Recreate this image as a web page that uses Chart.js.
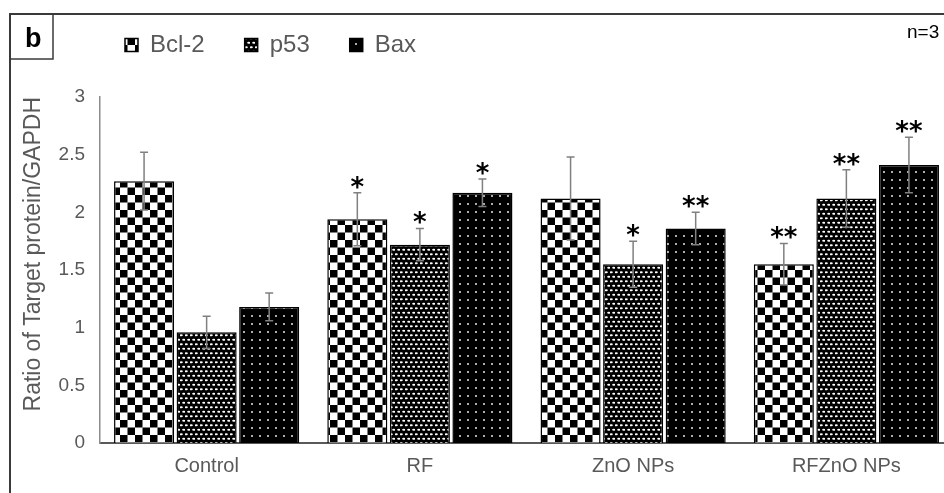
<!DOCTYPE html>
<html>
<head>
<meta charset="utf-8">
<script src="https://cdn.jsdelivr.net/npm/chart.js@4.4.1/dist/chart.umd.min.js"></script>
<style>
html, body { margin: 0; padding: 0; background: #fff; overflow: hidden; }
#wrap { width: 944px; height: 493px; overflow: hidden; }
</style>
</head>
<body>
<div id="wrap"><canvas id="chart-1" width="960" height="493"></canvas></div>
<script>
// values
const groups = ['Control', 'RF', 'ZnO NPs', 'RFZnO NPs'];
const bcl2 = [2.27, 1.94, 2.12, 1.55];
const bcl2Err = [0.25, 0.23, 0.36, 0.18];
const p53 = [0.96, 1.72, 1.55, 2.12];
const p53Err = [0.14, 0.14, 0.20, 0.25];
const bax = [1.18, 2.17, 1.86, 2.41];
const baxErr = [0.12, 0.12, 0.14, 0.24];
const bcl2Sig = ['', '*', '', '**'];
const p53Sig = ['', '*', '*', '**'];
const baxSig = ['', '*', '**', '**'];
const yTicks = [0, 0.5, 1, 1.5, 2, 2.5, 3];

const family = '"Liberation Sans", Arial, sans-serif';

function makePattern(w, h, draw) {
  var c = document.createElement('canvas');
  c.width = w;
  c.height = h;
  draw(c.getContext('2d'), w, h);
  return c.getContext('2d').createPattern(c, 'repeat');
}

// checkerboard
var checker = makePattern(15, 15, function (g) {
  g.fillStyle = '#fff';
  g.fillRect(0, 0, 15, 15);
  g.fillStyle = '#000';
  g.fillRect(0, 0, 7.5, 7.5);
  g.fillRect(7.5, 7.5, 7.5, 7.5);
});

// dense white ovals on black
var ovals = makePattern(5, 9, function (g) {
  g.fillStyle = '#000';
  g.fillRect(0, 0, 5, 9);
  g.fillStyle = '#fff';
  g.beginPath();
  g.ellipse(1.25, 2.25, 1.6, 1.1, 0, 0, Math.PI * 2);
  g.ellipse(3.75, 6.75, 1.6, 1.1, 0, 0, Math.PI * 2);
  g.fill();
});

// sparse white dots on black
var dots = makePattern(8, 8, function (g) {
  g.fillStyle = '#000';
  g.fillRect(0, 0, 8, 8);
  g.fillStyle = '#fff';
  g.beginPath();
  g.arc(4, 4, 0.9, 0, Math.PI * 2);
  g.fill();
});

var decor = {
  id: 'decor',
  afterLayout: function (chart) {
    // left aligned legend row like the original
    chart.legend.left = 85;
    chart.legend.top = -7;
  },
  beforeDraw: function (chart) {
    var ctx = chart.ctx;
    ctx.save();
    ctx.strokeStyle = '#3a3a3a';
    ctx.lineWidth = 2;
    ctx.beginPath();
    ctx.moveTo(10, 493);
    ctx.lineTo(10, 14);
    ctx.lineTo(chart.width, 14);
    ctx.stroke();
    ctx.lineWidth = 1.5;
    ctx.strokeRect(10, 14, 43, 45);
    ctx.fillStyle = '#000';
    ctx.textBaseline = 'alphabetic';
    ctx.font = 'bold 27px ' + family;
    ctx.fillText('b', 25, 47);
    ctx.font = '19px ' + family;
    ctx.fillText('n=3', 907, 38);
    ctx.restore();
  },
  afterDatasetsDraw: function (chart) {
    var ctx = chart.ctx;
    var y = chart.scales.y;
    ctx.save();
    chart.data.datasets.forEach(function (ds, i) {
      var meta = chart.getDatasetMeta(i);
      meta.data.forEach(function (bar, j) {
        var v = ds.data[j], e = ds.errors[j];
        var top = y.getPixelForValue(v + e);
        var bot = y.getPixelForValue(v - e);
        ctx.strokeStyle = '#808080';
        ctx.lineWidth = 1.5;
        ctx.beginPath();
        ctx.moveTo(bar.x, top);
        ctx.lineTo(bar.x, bot);
        ctx.moveTo(bar.x - 4, top);
        ctx.lineTo(bar.x + 4, top);
        ctx.moveTo(bar.x - 4, bot);
        ctx.lineTo(bar.x + 4, bot);
        ctx.stroke();
        if (ds.stars[j]) {
          ctx.fillStyle = '#000';
          ctx.font = 'bold 26px "DejaVu Sans", sans-serif';
          ctx.textAlign = 'center';
          ctx.textBaseline = 'alphabetic';
          ctx.fillText(ds.stars[j], bar.x, top + 3);
        }
      });
    });
    ctx.restore();
  }
};

var myChart = new Chart(document.getElementById('chart-1'), {
  type: 'bar',
  data: {
    labels: groups,
    datasets: [{
      label: 'Bcl-2',
      data: bcl2,
      errors: bcl2Err,
      stars: bcl2Sig,
      backgroundColor: checker,
      borderColor: '#000',
      borderWidth: 1.5
    }, {
      label: 'p53',
      data: p53,
      errors: p53Err,
      stars: p53Sig,
      backgroundColor: ovals,
      borderColor: '#000',
      borderWidth: 1.5
    }, {
      label: 'Bax',
      data: bax,
      errors: baxErr,
      stars: baxSig,
      backgroundColor: dots,
      borderColor: '#000',
      borderWidth: 1.5
    }]
  },
  options: {
    responsive: false,
    animation: false,
    categoryPercentage: 0.88,
    barPercentage: 0.96,
    layout: { padding: { top: 37, right: 7, bottom: 0, left: 0 } },
    plugins: {
      tooltip: { enabled: false },
      legend: {
        position: 'top',
        align: 'start',
        maxHeight: 60,
        labels: {
          boxWidth: 13,
          boxHeight: 13,
          padding: 40,
          color: '#595959',
          font: { size: 24, family: family }
        }
      }
    },
    scales: {
      x: {
        afterFit: function (s) { s.height = 50; },
        grid: { display: false, drawTicks: false },
        border: { display: true, color: '#595959', width: 2 },
        ticks: { color: '#595959', font: { size: 20, family: family }, padding: 11 }
      },
      y: {
        min: 0,
        max: 3,
        afterBuildTicks: function (s) {
          s.ticks = yTicks.map(function (v) { return { value: v }; });
        },
        afterFit: function (s) { s.width = 100; },
        grid: { display: false, drawTicks: false },
        border: { display: true, color: '#8c8c8c', width: 1.5 },
        ticks: {
          color: '#595959',
          font: { size: 19, family: family },
          padding: 15,
          callback: function (v) { return String(v); }
        },
        title: {
          display: true,
          text: 'Ratio of Target protein/GAPDH',
          color: '#595959',
          align: 'end',
          font: { size: 23, family: family },
          padding: { top: 20, bottom: 0 }
        }
      }
    }
  },
  plugins: [decor]
});
</script>
</body>
</html>
